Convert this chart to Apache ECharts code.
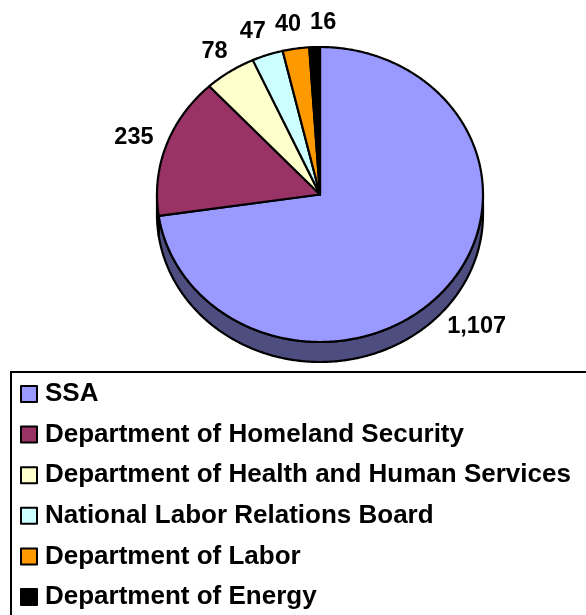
<!DOCTYPE html>
<html><head><meta charset="utf-8">
<script src="https://cdn.jsdelivr.net/npm/echarts@6/dist/echarts.min.js"></script>
<style>html,body{margin:0;padding:0;background:#fff}#chart{width:586px;height:615px}</style>
</head><body><div id="chart"></div>
<script>
// ---- data ----
const categories = ['SSA', 'Department of Homeland Security', 'Department of Health and Human Services', 'National Labor Relations Board', 'Department of Labor', 'Department of Energy'];
const values = [1107, 235, 78, 47, 40, 16];
const valueLabels = ['1,107', '235', '78', '47', '40', '16'];
const colors = ['#9999FF', '#993366', '#FFFFCC', '#CCFFFF', '#FF9900', '#000000'];

// ---- layout ----
const CX = 320, CY = 194.5, RX = 163, RY = 147.5, DEPTH = 20;
const FONT = '"Liberation Sans", Arial, sans-serif';
const LABEL_SIZE = 23.5;

function darker(hex) {
  const n = parseInt(hex.slice(1), 16);
  const r = (n >> 16) & 255, g = (n >> 8) & 255, b = n & 255;
  return 'rgb(' + Math.round(r / 2) + ',' + Math.round(g / 2) + ',' + Math.round(b / 2) + ')';
}
function pt(deg, dy) {
  const t = deg * Math.PI / 180;
  return [CX + RX * Math.cos(t), CY - RY * Math.sin(t) + (dy || 0)];
}
function arc(a, b, dy) {
  const pts = [];
  const n = Math.max(2, Math.ceil(Math.abs(b - a) / 0.5));
  for (let k = 0; k <= n; k++) pts.push(pt(a + (b - a) * k / n, dy));
  return pts;
}

const total = values.reduce((s, v) => s + v, 0);
const geo = [];
let cum = 0;
values.forEach((v, i) => {
  const a0 = 90 - cum / total * 360;
  cum += v;
  const a1 = 90 - cum / total * 360;
  geo.push({ a0, a1, mid: (a0 + a1) / 2 });
});

// label placement
const mctx = document.createElement('canvas').getContext('2d');
mctx.font = 'bold ' + LABEL_SIZE + 'px ' + FONT;
const LH = 22, GAP = 9, K = 1.09;
const lab = geo.map((g, i) => {
  const t = g.mid * Math.PI / 180;
  const w = mctx.measureText(valueLabels[i]).width;
  const c = Math.cos(t), s = Math.sin(t);
  let x = CX + (RX * K + w / 2) * c;
  let y = CY - (RY * K + LH / 2) * s + (s < 0 ? DEPTH : 0);
  return { x, y, w };
});
for (let it = 0; it < 200; it++) {
  for (let i = 0; i < lab.length; i++) for (let j = i + 1; j < lab.length; j++) {
    const A = lab[i], B = lab[j];
    if (Math.abs(A.y - B.y) >= LH) continue;
    const need = (A.w + B.w) / 2 + GAP;
    const d = A.x - B.x;
    if (Math.abs(d) < need) {
      const push = (need - Math.abs(d)) / 2 * 0.5;
      const sgn = d >= 0 ? 1 : -1;
      A.x += sgn * push; B.x -= sgn * push;
    }
  }
}

function renderItem(params, api) {
  const i = params.dataIndex;
  const g = geo[i];
  const col = api.visual('color');
  const children = [];
  // top face
  children.push({
    type: 'polygon', z2: 10,
    shape: { points: [[CX, CY]].concat(arc(g.a0, g.a1)) },
    style: { fill: col, stroke: '#000', lineWidth: 2.2, lineJoin: 'round' }
  });
  // visible side (lower half of ellipse)
  [[-180, 0], [-540, -360]].forEach(([lo, hi]) => {
    const s = Math.max(lo, g.a1), e = Math.min(hi, g.a0);
    if (e > s) {
      const top = arc(s, e, 0), bot = arc(e, s, DEPTH);
      children.push({
        type: 'polygon', z2: 1,
        shape: { points: top.concat(bot) },
        style: { fill: darker(colors[i]), stroke: '#000', lineWidth: 2.2, lineJoin: 'round' }
      });
    }
  });
  // value label
  children.push({
    type: 'text', z2: 20,
    x: lab[i].x, y: lab[i].y,
    style: {
      text: valueLabels[i], fill: '#000', align: 'center', verticalAlign: 'middle',
      font: 'bold ' + LABEL_SIZE + 'px ' + FONT
    }
  });
  return { type: 'group', children };
}

const chart = echarts.init(document.getElementById('chart'), null, { renderer: 'canvas' });
chart.setOption({
  backgroundColor: '#fff',
  animation: false,
  color: colors,
  legend: {
    data: categories,
    orient: 'vertical',
    left: 20, top: 381,
    padding: 0,
    itemWidth: 16, itemHeight: 16,
    itemGap: 14.6,
    icon: 'rect',
    selectedMode: false,
    itemStyle: { borderColor: '#000', borderWidth: 2 },
    textStyle: { color: '#000', fontWeight: 'bold', fontSize: 26, fontFamily: FONT, padding: [0, 0, 0, 3] }
  },
  graphic: [{
    type: 'rect', shape: { x: 11, y: 372, width: 700, height: 400 },
    style: { fill: 'none', stroke: '#000', lineWidth: 2 }, silent: true, z: -1
  }],
  series: [
    {
      type: 'custom', name: 'agencies', coordinateSystem: 'none',
      data: values.map((v, i) => ({ name: categories[i], value: v, itemStyle: { color: colors[i] } })),
      renderItem, silent: true
    },
    {
      type: 'pie', name: 'legendSource', radius: [0, 0], center: [-50, -50],
      silent: true, label: { show: false }, labelLine: { show: false },
      data: values.map((v, i) => ({ name: categories[i], value: v, itemStyle: { color: colors[i] } }))
    }
  ]
});
</script>
</body></html>
